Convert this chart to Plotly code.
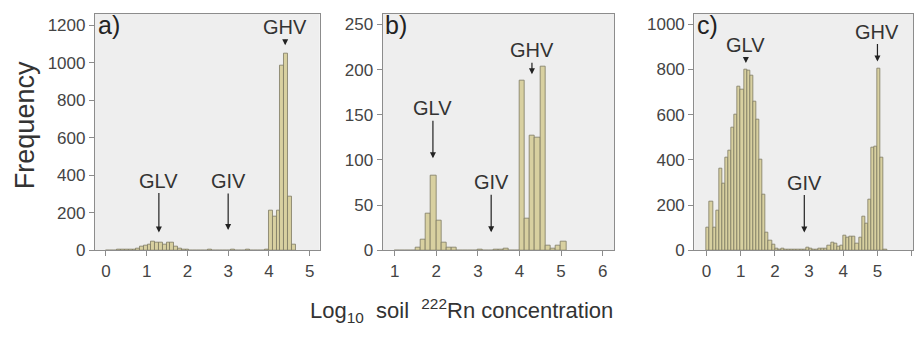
import plotly.graph_objects as go

# ---------------- data ----------------
# panel a) histogram, bins start at 0, width a_bin
a_bin = 0.093
a_counts = [1, 0, 1, 2, 3, 4, 3, 5, 10, 18, 28, 30, 45, 44, 40, 33, 42, 40, 22, 10, 4, 2,
            1, 0, 1, 0, 1, 2, 1, 0, 1, 0, 1, 2, 1, 0, 1, 2, 1, 0, 1, 1, 2,
            210, 182, 212, 985, 1048, 288, 30]
a_start = 0.0

# panel b) histogram, bins start at 1.0, width b_bin
b_bin = 0.125
b_start = 1.0
b_counts = [0, 0, 0, 0, 3, 12, 41, 83, 33, 9, 3, 3, 0, 0, 0, 0, 1, 0, 0, 1, 1, 2, 0, 0,
            188, 35, 127, 125, 203, 5, 2, 5, 10]

# panel c) histogram, bins start at 0, width c_bin
c_bin = 1 / 11
c_start = 0.0
c_counts = [100, 215, 100, 175, 360, 295, 410, 440, 545, 600, 725, 710, 800, 795, 775, 660,
            580, 400, 245, 80, 45, 25, 10, 5, 10, 5, 5, 5, 3, 5, 3, 5, 12, 8, 3, 5, 8, 8,
            10, 20, 35, 30, 15, 20, 65, 55, 60, 60, 30, 55, 150, 120, 225, 455, 460, 805,
            410, 5]

panel_labels = ["a)", "b)", "c)"]
x_ticks = [[0, 1, 2, 3, 4, 5], [1, 2, 3, 4, 5, 6], [0, 1, 2, 3, 4, 5, 6]]
y_ticks = [[0, 200, 400, 600, 800, 1000, 1200], [0, 50, 100, 150, 200, 250],
           [0, 200, 400, 600, 800, 1000]]

# annotations: (text, x, y)
a_notes = [("GLV", 1.3, 95), ("GIV", 3.0, 108), ("GHV", 4.4, 1093)]
b_notes = [("GLV", 1.92, 102), ("GIV", 3.32, 20), ("GHV", 4.30, 195)]
c_notes = [("GLV", 1.15, 829), ("GIV", 2.86, 79), ("GHV", 5.0, 835)]
note_offsets = [[-52, -49, -18], [-50, -50, -24], [-18, -50, -30]]

x_title = "Log<sub>10</sub>&nbsp; soil &nbsp;<sup>222</sup>Rn concentration"
y_title = "Frequency"

# ---------------- layout / style ----------------
W, H = 914, 338
FONT = "Liberation Sans, Arial, sans-serif"
BAR_FILL = "#d8d0a0"
BAR_LINE = "#7e7a62"
BG = "#eeeeee"
FRAME = "#8c8c8c"
TXT = "#333333"

def px_x(p):
    return p / W

def px_y(p):
    return 1 - p / H

x_doms = [(95, 320), (383, 615), (695, 914)]
y_dom = (258, 14)
x_ranges = [(-0.27, 5.245), (0.71, 6.28), (-0.36, 6.04)]
y_ranges = [(0, 1261), (0, 262), (0, 1047)]

fig = go.Figure()

def add_hist(counts, start, width, idx):
    xs = [start + (i + 0.5) * width for i in range(len(counts))]
    sfx = "" if idx == 0 else str(idx + 1)
    fig.add_trace(go.Bar(
        x=xs, y=counts, width=width,
        marker=dict(color=BAR_FILL, line=dict(color=BAR_LINE, width=0.8)),
        xaxis="x" + sfx, yaxis="y" + sfx, showlegend=False, hoverinfo="x+y"))

add_hist(a_counts, a_start, a_bin, 0)
add_hist(b_counts, b_start, b_bin, 1)
add_hist(c_counts, c_start, c_bin, 2)

layout = dict(
    width=W, height=H,
    margin=dict(l=0, r=0, t=0, b=0),
    paper_bgcolor="white",
    plot_bgcolor=BG,
    font=dict(family=FONT, color=TXT, size=17),
    bargap=0,
    annotations=[],
)

for i in range(3):
    sfx = "" if i == 0 else str(i + 1)
    layout["xaxis" + sfx] = dict(
        domain=[px_x(x_doms[i][0]), px_x(x_doms[i][1])],
        range=list(x_ranges[i]), anchor="y" + sfx,
        tickvals=x_ticks[i], ticks="outside", ticklen=5, tickcolor=FRAME,
        showline=True, linecolor=FRAME, linewidth=1, mirror=True,
        showgrid=False, zeroline=False,
        tickfont=dict(size=17, color="#444444"),
    )
    layout["yaxis" + sfx] = dict(
        domain=[px_y(y_dom[0]), px_y(y_dom[1])],
        range=list(y_ranges[i]), anchor="x" + sfx,
        tickvals=y_ticks[i], ticks="outside", ticklen=5, tickcolor=FRAME,
        showline=True, linecolor=FRAME, linewidth=1, mirror=True,
        showgrid=False, zeroline=False,
        tickfont=dict(size=17, color="#444444"),
    )
    # panel label
    layout["annotations"].append(dict(
        text=panel_labels[i], xref="x" + sfx + " domain", yref="y" + sfx + " domain",
        x=0.003, y=1.02, xanchor="left", yanchor="top", showarrow=False,
        font=dict(size=25, color="#222222", family=FONT)))

for i, notes in enumerate([a_notes, b_notes, c_notes]):
    sfx = "" if i == 0 else str(i + 1)
    for j, (t, xv, yv) in enumerate(notes):
        layout["annotations"].append(dict(
            text=t, x=xv, y=yv, xref="x" + sfx, yref="y" + sfx,
            showarrow=True, ax=0, ay=note_offsets[i][j],
            arrowhead=2, arrowsize=1, arrowwidth=1.2, arrowcolor="#222222",
            font=dict(size=20, color="#333333", family=FONT)))

layout["annotations"].append(dict(
    text=x_title, xref="paper", yref="paper", x=px_x(462), y=px_y(320),
    xanchor="center", yanchor="middle", showarrow=False,
    font=dict(size=22, color="#333333", family=FONT)))
layout["annotations"].append(dict(
    text=y_title, xref="paper", yref="paper", x=px_x(25), y=px_y(129),
    xanchor="center", yanchor="middle", showarrow=False, textangle=-90,
    font=dict(size=27, color="#333333", family=FONT)))

fig.update_layout(**layout)
fig.write_html("out.html")
